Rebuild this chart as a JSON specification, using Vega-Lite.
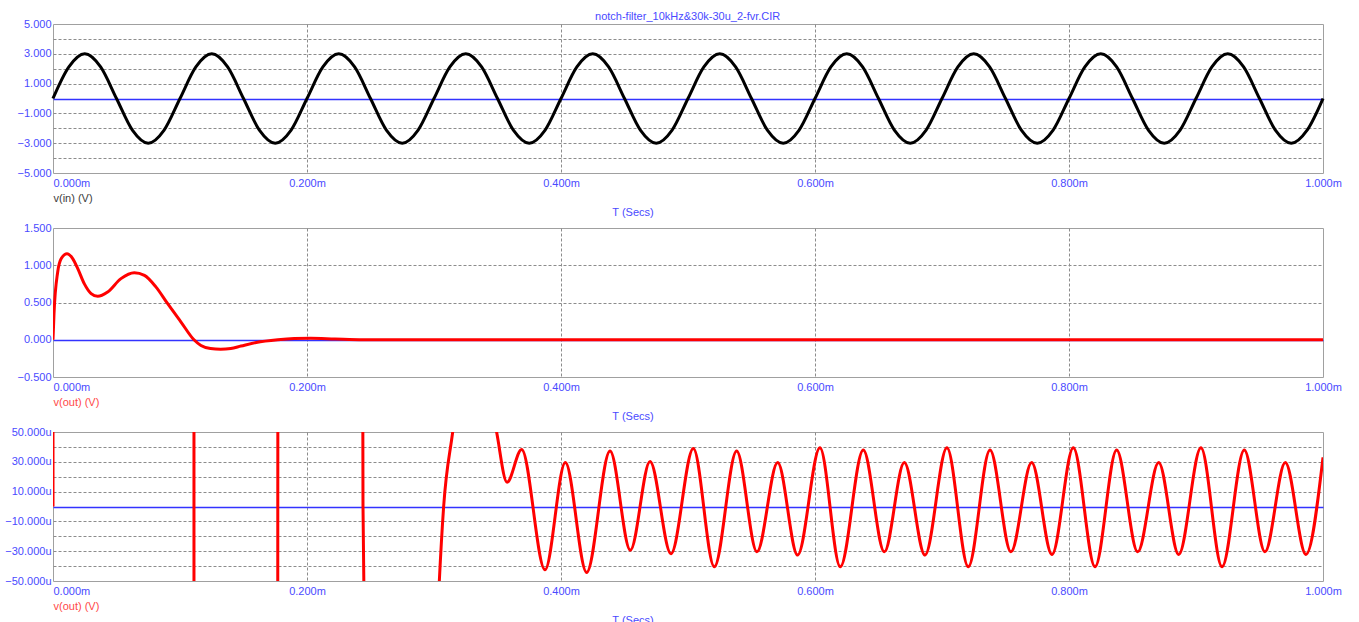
{
  "$schema": "https://vega.github.io/schema/vega-lite/v6.json",
  "padding": {"left": 1, "top": 10, "right": 0, "bottom": 0},
  "background": "white",
  "title": {"text": "notch-filter_10kHz&30k-30u_2-fvr.CIR", "anchor": "middle", "fontSize": 11, "fontWeight": "normal", "color": "#4a4aff", "font": "Liberation Sans", "offset": -4, "dx": 16},
  "datasets": {
    "vin": [
      {"t":0,"v":0},{"t":0.0125,"v":2.121},{"t":0.025,"v":3},{"t":0.0375,"v":2.121},{"t":0.05,"v":0},{"t":0.0625,"v":-2.121},{"t":0.075,"v":-3},{"t":0.0875,"v":-2.121},
      {"t":0.1,"v":0},{"t":0.1125,"v":2.121},{"t":0.125,"v":3},{"t":0.1375,"v":2.121},{"t":0.15,"v":0},{"t":0.1625,"v":-2.121},{"t":0.175,"v":-3},{"t":0.1875,"v":-2.121},
      {"t":0.2,"v":0},{"t":0.2125,"v":2.121},{"t":0.225,"v":3},{"t":0.2375,"v":2.121},{"t":0.25,"v":0},{"t":0.2625,"v":-2.121},{"t":0.275,"v":-3},{"t":0.2875,"v":-2.121},
      {"t":0.3,"v":0},{"t":0.3125,"v":2.121},{"t":0.325,"v":3},{"t":0.3375,"v":2.121},{"t":0.35,"v":0},{"t":0.3625,"v":-2.121},{"t":0.375,"v":-3},{"t":0.3875,"v":-2.121},
      {"t":0.4,"v":0},{"t":0.4125,"v":2.121},{"t":0.425,"v":3},{"t":0.4375,"v":2.121},{"t":0.45,"v":0},{"t":0.4625,"v":-2.121},{"t":0.475,"v":-3},{"t":0.4875,"v":-2.121},
      {"t":0.5,"v":0},{"t":0.5125,"v":2.121},{"t":0.525,"v":3},{"t":0.5375,"v":2.121},{"t":0.55,"v":0},{"t":0.5625,"v":-2.121},{"t":0.575,"v":-3},{"t":0.5875,"v":-2.121},
      {"t":0.6,"v":0},{"t":0.6125,"v":2.121},{"t":0.625,"v":3},{"t":0.6375,"v":2.121},{"t":0.65,"v":0},{"t":0.6625,"v":-2.121},{"t":0.675,"v":-3},{"t":0.6875,"v":-2.121},
      {"t":0.7,"v":0},{"t":0.7125,"v":2.121},{"t":0.725,"v":3},{"t":0.7375,"v":2.121},{"t":0.75,"v":0},{"t":0.7625,"v":-2.121},{"t":0.775,"v":-3},{"t":0.7875,"v":-2.121},
      {"t":0.8,"v":0},{"t":0.8125,"v":2.121},{"t":0.825,"v":3},{"t":0.8375,"v":2.121},{"t":0.85,"v":0},{"t":0.8625,"v":-2.121},{"t":0.875,"v":-3},{"t":0.8875,"v":-2.121},
      {"t":0.9,"v":0},{"t":0.9125,"v":2.121},{"t":0.925,"v":3},{"t":0.9375,"v":2.121},{"t":0.95,"v":0},{"t":0.9625,"v":-2.121},{"t":0.975,"v":-3},{"t":0.9875,"v":-2.121},
      {"t":1.0,"v":0}
    ],
    "vout": [
      {"t":0,"v":0},{"t":0.0008,"v":0.35},{"t":0.0037,"v":0.91},{"t":0.0065,"v":1.09},{"t":0.011,"v":1.155},{"t":0.0155,"v":1.09},{"t":0.0195,"v":0.955},
      {"t":0.0247,"v":0.75},{"t":0.03,"v":0.62},{"t":0.0352,"v":0.583},{"t":0.043,"v":0.64},{"t":0.0535,"v":0.82},{"t":0.064,"v":0.9},{"t":0.072,"v":0.865},
      {"t":0.081,"v":0.71},{"t":0.0903,"v":0.484},{"t":0.1008,"v":0.238},{"t":0.111,"v":0},{"t":0.1165,"v":-0.076},{"t":0.124,"v":-0.118},{"t":0.132,"v":-0.128},
      {"t":0.14,"v":-0.118},{"t":0.148,"v":-0.085},{"t":0.16,"v":-0.037},{"t":0.177,"v":0},{"t":0.19,"v":0.016},{"t":0.203,"v":0.02},{"t":0.222,"v":0.01},
      {"t":0.2441,"v":0},{"t":0.275,"v":-0.0012},{"t":0.3042,"v":-5e-5},{"t":0.3076,"v":0},{"t":0.3147,"v":5e-5},{"t":0.33,"v":1.5e-4},{"t":0.3493,"v":5e-5},
      {"t":0.3575,"v":1.63e-5},{"t":0.369,"v":3.83e-5},{"t":0.3874,"v":-4.25e-5},{"t":0.4034,"v":2.95e-5},{"t":0.4202,"v":-4.43e-5},{"t":0.4386,"v":3.72e-5},
      {"t":0.4546,"v":-2.93e-5},{"t":0.4701,"v":3.02e-5},{"t":0.4866,"v":-3.17e-5},{"t":0.5042,"v":3.9e-5},{"t":0.5207,"v":-4.05e-5},{"t":0.5383,"v":3.72e-5},
      {"t":0.5543,"v":-3.04e-5},{"t":0.5706,"v":2.95e-5},{"t":0.5863,"v":-3.26e-5},{"t":0.6039,"v":3.94e-5},{"t":0.6199,"v":-4.05e-5},{"t":0.638,"v":3.79e-5},
      {"t":0.6546,"v":-3.04e-5},{"t":0.6703,"v":2.95e-5},{"t":0.6866,"v":-3.26e-5},{"t":0.7039,"v":3.94e-5},{"t":0.7207,"v":-4.05e-5},{"t":0.7378,"v":3.79e-5},
      {"t":0.7543,"v":-3.04e-5},{"t":0.7706,"v":2.95e-5},{"t":0.7866,"v":-3.22e-5},{"t":0.8034,"v":3.94e-5},{"t":0.8205,"v":-4.05e-5},{"t":0.8375,"v":3.79e-5},
      {"t":0.8541,"v":-3.04e-5},{"t":0.8706,"v":2.95e-5},{"t":0.8864,"v":-3.22e-5},{"t":0.9039,"v":3.94e-5},{"t":0.9205,"v":-4.05e-5},{"t":0.938,"v":3.79e-5},
      {"t":0.9543,"v":-3.04e-5},{"t":0.9703,"v":2.95e-5},{"t":0.9866,"v":-3.22e-5},{"t":1.0,"v":3.3e-5}
    ]
  },
  "config": {
    "font": "Liberation Sans",
    "view": {"stroke": "#a0a0a0", "strokeWidth": 1},
    "axis": {"domain": false, "ticks": false, "tickSize": 0, "labelFont": "Liberation Sans", "labelFontSize": 11, "labelColor": "#4a4aff", "labelOverlap": false, "labelBound": false, "labelFlush": false, "gridWidth": 1},
    "axisY": {"minExtent": 51, "maxExtent": 51, "labelPadding": 2, "labelAlign": "right", "labelBaseline": "middle"},
    "axisX": {"labelPadding": 4, "labelBaseline": "top", "titleFont": "Liberation Sans", "titleFontSize": 11, "titleFontWeight": "normal", "titleAnchor": "start", "titleAlign": "left", "titlePadding": 4},
    "title": {"font": "Liberation Sans", "fontSize": 11, "fontWeight": "normal", "color": "#4a4aff"}
  },
  "spacing": 2,
  "vconcat": [
    {
      "width": 1270, "height": 149,
      "data": {"name": "vin"},
      "title": {"text": "T (Secs)", "orient": "bottom", "anchor": "middle", "dx": -55, "offset": 4},
      "mark": {"type": "line", "color": "#000000", "strokeWidth": 3, "interpolate": "monotone"},
      "encoding": {
        "x": {"field": "t", "type": "quantitative", "scale": {"domain": [0, 1], "nice": false, "zero": false},
          "axis": {"values": [0, 0.2, 0.4, 0.6, 0.8, 1], "labelExpr": "format(datum.value, '.3f') + 'm'",
            "labelAlign": {"condition": {"test": "datum.value == 0", "value": "left"}, "value": "center"},
            "title": "v(in) (V)", "titleColor": "#3c3c3c",
            "gridColor": "#8c8c8c", "gridDash": [3, 2],
            "gridOpacity": {"condition": {"test": "datum.value == 0 || datum.value == 1", "value": 0}, "value": 1}}},
        "y": {"field": "v", "type": "quantitative", "scale": {"domain": [-5, 5], "nice": false},
          "axis": {"values": [-5, -4, -3, -2, -1, 0, 1, 2, 3, 4, 5], "title": null,
            "labelExpr": "abs(datum.value) % 2 == 1 ? format(datum.value, '.3f') : ''",
            "gridColor": {"condition": {"test": "datum.value == 0", "value": "#3333ff"}, "value": "#8c8c8c"},
            "gridDash": {"condition": {"test": "datum.value == 0", "value": []}, "value": [3, 2]},
            "gridWidth": {"condition": {"test": "datum.value == 0", "value": 1.3}, "value": 1},
            "gridOpacity": {"condition": {"test": "abs(datum.value) == 5", "value": 0}, "value": 1}}}
      }
    },
    {
      "width": 1270, "height": 149,
      "data": {"name": "vout"},
      "title": {"text": "T (Secs)", "orient": "bottom", "anchor": "middle", "dx": -55, "offset": 4},
      "mark": {"type": "line", "color": "#ff0000", "strokeWidth": 3, "interpolate": "monotone", "clip": true},
      "encoding": {
        "x": {"field": "t", "type": "quantitative", "scale": {"domain": [0, 1], "nice": false, "zero": false},
          "axis": {"values": [0, 0.2, 0.4, 0.6, 0.8, 1], "labelExpr": "format(datum.value, '.3f') + 'm'",
            "labelAlign": {"condition": {"test": "datum.value == 0", "value": "left"}, "value": "center"},
            "title": "v(out) (V)", "titleColor": "#ff4848",
            "gridColor": "#8c8c8c", "gridDash": [3, 2],
            "gridOpacity": {"condition": {"test": "datum.value == 0 || datum.value == 1", "value": 0}, "value": 1}}},
        "y": {"field": "v", "type": "quantitative", "scale": {"domain": [-0.5, 1.5], "nice": false},
          "axis": {"values": [-0.5, 0, 0.5, 1, 1.5], "title": null,
            "labelExpr": "format(datum.value, '.3f')",
            "gridColor": {"condition": {"test": "datum.value == 0", "value": "#3333ff"}, "value": "#8c8c8c"},
            "gridDash": {"condition": {"test": "datum.value == 0", "value": []}, "value": [3, 2]},
            "gridWidth": {"condition": {"test": "datum.value == 0", "value": 1.3}, "value": 1},
            "gridOpacity": {"condition": {"test": "datum.value == -0.5 || datum.value == 1.5", "value": 0}, "value": 1}}}
      }
    },
    {
      "width": 1270, "height": 149,
      "data": {"name": "vout"},
      "title": {"text": "T (Secs)", "orient": "bottom", "anchor": "middle", "dx": -55, "offset": 4},
      "mark": {"type": "line", "color": "#ff0000", "strokeWidth": 3, "interpolate": "monotone", "clip": true},
      "encoding": {
        "x": {"field": "t", "type": "quantitative", "scale": {"domain": [0, 1], "nice": false, "zero": false},
          "axis": {"values": [0, 0.2, 0.4, 0.6, 0.8, 1], "labelExpr": "format(datum.value, '.3f') + 'm'",
            "labelAlign": {"condition": {"test": "datum.value == 0", "value": "left"}, "value": "center"},
            "title": "v(out) (V)", "titleColor": "#ff4848",
            "gridColor": "#8c8c8c", "gridDash": [3, 2],
            "gridOpacity": {"condition": {"test": "datum.value == 0 || datum.value == 1", "value": 0}, "value": 1}}},
        "y": {"field": "v", "type": "quantitative", "scale": {"domain": [-5e-5, 5e-5], "nice": false, "zero": false},
          "axis": {"values": [-5e-5, -4e-5, -3e-5, -2e-5, -1e-5, 0, 1e-5, 2e-5, 3e-5, 4e-5, 5e-5], "title": null,
            "labelExpr": "abs(round(datum.value * 1e5)) % 2 == 1 ? format(datum.value * 1e6, '.3f') + 'u' : ''",
            "gridColor": {"condition": {"test": "datum.value == 0", "value": "#3333ff"}, "value": "#8c8c8c"},
            "gridDash": {"condition": {"test": "datum.value == 0", "value": []}, "value": [3, 2]},
            "gridWidth": {"condition": {"test": "datum.value == 0", "value": 1.3}, "value": 1},
            "gridOpacity": {"condition": {"test": "abs(round(datum.value * 1e5)) == 5", "value": 0}, "value": 1}}}
      }
    }
  ]
}
